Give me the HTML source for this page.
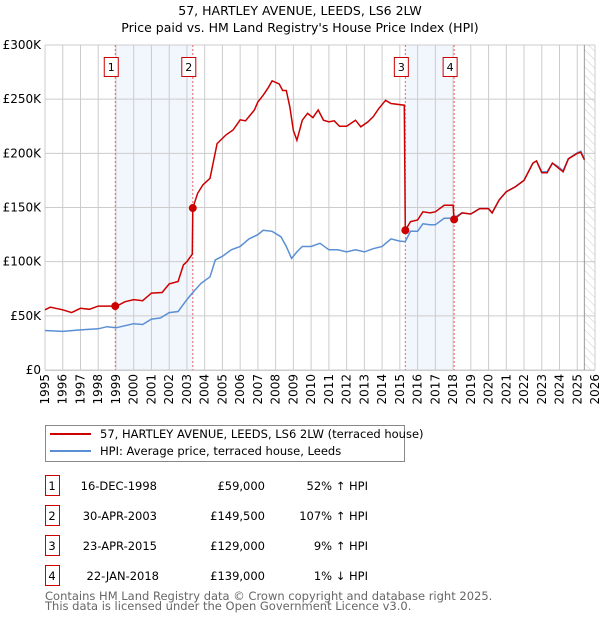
<!DOCTYPE html>
<html><head><meta charset="utf-8"><style>
body{margin:0;background:#fff;font-family:"Liberation Sans","DejaVu Sans",sans-serif;}
svg text{font-family:"DejaVu Sans","Liberation Sans",sans-serif;}
</style></head><body>
<svg id="c" width="600" height="620" xmlns="http://www.w3.org/2000/svg">
<defs><pattern id="hatch" width="6" height="6" patternUnits="userSpaceOnUse" patternTransform="rotate(-45)"><line x1="0" y1="0" x2="0" y2="6" stroke="#ccc" stroke-width="1"/></pattern></defs>
<text x="300" y="15" text-anchor="middle" font-size="12.5">57, HARTLEY AVENUE, LEEDS, LS6 2LW</text>
<text x="300" y="32" text-anchor="middle" font-size="12.5">Price paid vs. HM Land Registry's House Price Index (HPI)</text>
<g id="plot"></g>
<g>
<rect x="45.5" y="425.5" width="359" height="36" fill="#fff" stroke="#888"/>
<line x1="50" y1="434" x2="91" y2="434" stroke="#cc0000" stroke-width="2"/>
<text x="100" y="438" font-size="11.5">57, HARTLEY AVENUE, LEEDS, LS6 2LW (terraced house)</text>
<line x1="50" y1="451" x2="91" y2="451" stroke="#5b8fd4" stroke-width="2"/>
<text x="100" y="455" font-size="11.5">HPI: Average price, terraced house, Leeds</text>
</g>
<g id="table"></g>
<text x="45" y="600" font-size="11.5" fill="#666">Contains HM Land Registry data © Crown copyright and database right 2025.</text>
<text x="45" y="610" font-size="11.5" fill="#666">This data is licensed under the Open Government Licence v3.0.</text>
</svg>
<script>
const hpiYears=[1995,1996,1997,1998,1998.5,1999,2000,2000.5,2001,2001.5,2002,2002.5,2003,2003.3,2003.8,2004.3,2004.6,2005,2005.5,2006,2006.5,2007,2007.3,2007.8,2008.3,2008.6,2008.9,2009.2,2009.5,2010,2010.5,2011,2011.5,2012,2012.5,2013,2013.5,2014,2014.5,2015,2015.3,2015.6,2016,2016.3,2016.7,2017,2017.5,2018,2018.5,2019,2019.5,2020,2020.2,2020.6,2021,2021.5,2022,2022.5,2022.7,2023,2023.3,2023.6,2023.9,2024.2,2024.5,2025,2025.2,2025.4];
const hpiValues=[36.5,35.6,37,38,40,39,42.7,42,47,48,53,54,65,71,80,86,101.6,105,111,114,121,125,129,128,123,114,103,109,114,114,117,111,111,109,111,109,112,114,121,119,118.5,128,128,135,134,134,140,140,145,144,149,149,145,157,164.6,169,175,191,193,183,183,191,188,184,195,200.5,202,195];
const propYears=[1995,1995.3,1996,1996.5,1997,1997.5,1998,1998.5,1998.96,1999,1999.5,2000,2000.5,2001,2001.6,2002,2002.5,2002.8,2003,2003.3,2003.33,2003.6,2003.9,2004.3,2004.7,2005.2,2005.6,2006,2006.3,2006.8,2007,2007.3,2007.6,2007.8,2008.2,2008.4,2008.6,2008.8,2009,2009.2,2009.5,2009.8,2010.1,2010.4,2010.7,2011,2011.3,2011.6,2012,2012.5,2012.8,2013.2,2013.5,2013.8,2014.2,2014.5,2015.25,2015.31,2015.6,2016,2016.3,2016.7,2017,2017.5,2018,2018.06,2018.5,2019,2019.5,2020,2020.2,2020.6,2021,2021.5,2022,2022.5,2022.7,2023,2023.3,2023.6,2023.9,2024.2,2024.5,2025,2025.2,2025.4];
const propValues=[55.6,58,55.6,53,57,56,59,59,59,58.6,63,65,64,71,71.5,79.5,81.7,97,100,107,149.5,163,171,177,209,217,221.5,231,230,240,247.5,253.7,261,267,264,258,258,243,221,212,230.6,237,233,240,230.6,229,230,225,225,230.6,224.5,229,233.7,241,249,246,244.4,129,137,138.5,146,145,146,152,152,139,145,144,149,149,145,157,164.6,169,175,191,193,182,182,191,187,183,195,200,201,194];
const saleLabels=["1","2","3","4"];
const saleYears=[1998.96,2003.33,2015.31,2018.06];
const saleValues=[59,149.5,129,139];
const saleDates=["16-DEC-1998","30-APR-2003","23-APR-2015","22-JAN-2018"];
const salePrices=["£59,000","£149,500","£129,000","£139,000"];
const saleHpi=["52% ↑ HPI","107% ↑ HPI","9% ↑ HPI","1% ↓ HPI"];
const yTicks=[0,50,100,150,200,250,300];
const yTickLabels=["£0","£50K","£100K","£150K","£200K","£250K","£300K"];
const xTicks=[1995,1996,1997,1998,1999,2000,2001,2002,2003,2004,2005,2006,2007,2008,2009,2010,2011,2012,2013,2014,2015,2016,2017,2018,2019,2020,2021,2022,2023,2024,2025,2026];
const dataEnd=2025.4;

const L=45,R=595,T=45,B=370;
const x=y=>L+(y-1995)/(2026-1995)*(R-L);
const yv=v=>B-v/300*(B-T);
const NS="http://www.w3.org/2000/svg";
const plot=document.getElementById('plot');
function mk(tag,at,parent){const e=document.createElementNS(NS,tag);for(const k in at)e.setAttribute(k,at[k]);(parent||plot).appendChild(e);return e;}

// shaded spans
for(let i=0;i<4;i+=2){
 const r=mk('rect',{x:x(saleYears[i]),y:T,width:x(saleYears[i+1])-x(saleYears[i]),height:B-T,fill:'#eef3fc',opacity:0.75});
 
 
}
// grid
xTicks.forEach(t=>{
 const g=mk('line',{x1:x(t),x2:x(t),y1:T,y2:B,stroke:'#ccc','stroke-width':1});
 
 
 const tx=mk('text',{x:0,y:0,'font-size':12,'text-anchor':'end',transform:`translate(${x(t)+4},${B+4}) rotate(-90)`});
 tx.textContent=t;
 
 
});
yTicks.forEach((t,i)=>{
 const g=mk('line',{x1:L,x2:R,y1:yv(t),y2:yv(t),stroke:'#ccc','stroke-width':1});
 
 
 const tx=mk('text',{x:L-4,y:yv(t)+4,'font-size':12,'text-anchor':'end'});
 tx.textContent=yTickLabels[i];
 
 
});
// hatch
const h=mk('rect',{x:x(dataEnd),y:T,width:R-x(dataEnd),height:B-T,fill:'url(#hatch)'});


const de=mk('line',{x1:x(dataEnd),x2:x(dataEnd),y1:T,y2:B,stroke:'#999','stroke-width':1});


// sale lines + boxes
saleYears.forEach((s,i)=>{
 const l=mk('line',{x1:x(s),x2:x(s),y1:T,y2:B,stroke:'#e66','stroke-width':1,'stroke-dasharray':'2,2'});
 
 
 const bx=mk('rect',{x:x(s)-11,y:57.5,width:14,height:19,fill:'#fff',stroke:'#cc0000'});
 
 
 const t=mk('text',{x:x(s)-4,y:71,'font-size':11,'text-anchor':'middle'});
 t.textContent=saleLabels[i];
 
 
});
// lines
const hp=mk('path',{d:hpiYears.map((t,i)=>(i?'L':'M')+x(t).toFixed(1)+','+yv(hpiValues[i]).toFixed(1)).join(''),fill:'none',stroke:'#5b8fd4','stroke-width':1.5});


const pp=mk('path',{d:propYears.map((t,i)=>(i?'L':'M')+x(t).toFixed(1)+','+yv(propValues[i]).toFixed(1)).join(''),fill:'none',stroke:'#cc0000','stroke-width':1.5});


saleYears.forEach((s,i)=>{
 const c=mk('circle',{cx:x(s),cy:yv(saleValues[i]),r:4,fill:'#cc0000'});
 
 
});
const ax=mk('line',{x1:L,x2:R,y1:B+0.5,y2:B+0.5,stroke:'#ccc'});



// table
const tb=document.getElementById('table');
saleLabels.forEach((lab,i)=>{
 const yy=476+i*30;
 const b=mk('rect',{x:45.5,y:yy-0.5,width:14,height:20,fill:'#fff',stroke:'#cc0000'},tb);
 
 
 const cells=[[52,'middle',lab],[158,'end',saleDates[i]],[265,'end',salePrices[i]],[368,'end',saleHpi[i]]];
 cells.forEach((c,j)=>{
  const t=mk('text',{x:j==1?(i==3?159:157):c[0],y:yy+14,'font-size':11.5,'text-anchor':c[1]},tb);
  t.textContent=c[2];
  
  
 });
});
</script>
</body></html>
